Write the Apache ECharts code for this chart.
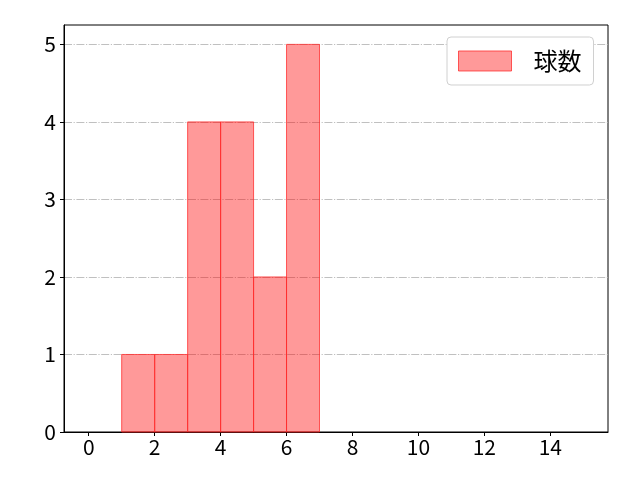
<!DOCTYPE html>
<html>
<head>
<meta charset="utf-8">
<script src="https://cdn.jsdelivr.net/npm/echarts@6/dist/echarts.min.js"></script>
<style>
  html, body { margin: 0; padding: 0; background: #fff; }
  #chart { width: 640px; height: 480px; }
</style>
</head>
<body>
<div id="chart"></div>
<script>
// ヒストグラムのビン（左端・右端）と度数
var binStarts = [1, 2, 3, 4, 5, 6];
var binEnds = [2, 3, 4, 5, 6, 7];
var counts = [1, 1, 4, 4, 2, 5];
var xTicks = [0, 2, 4, 6, 8, 10, 12, 14];
var yTicks = [0, 1, 2, 3, 4, 5];
var seriesName = '球数';

var font = '"Noto Sans CJK JP", "Noto Sans", sans-serif';

var chart = echarts.init(document.getElementById('chart'));

var data = [];
for (var i = 0; i < counts.length; i++) {
    data.push([binStarts[i], binEnds[i], counts[i]]);
}

function renderBar(params, api) {
    var p0 = api.coord([api.value(0), 0]);
    var p1 = api.coord([api.value(1), api.value(2)]);
    return {
        type: 'rect',
        shape: { x: p0[0], y: p1[1], width: p1[0] - p0[0], height: p0[1] - p1[1] },
        style: { fill: 'rgba(255,0,0,0.4)', stroke: 'rgba(255,40,40,0.75)', lineWidth: 1 }
    };
}

var option = {
    backgroundColor: '#fff',
    animation: false,
    grid: {
        left: 64, right: 32, top: 25, bottom: 48,
        show: true, borderColor: '#000', borderWidth: 1, backgroundColor: 'transparent'
    },
    legend: {
        left: 447, top: 37,
        padding: [12, 12, 12, 11],
        backgroundColor: '#fff',
        borderColor: '#d0d0d0', borderWidth: 1, borderRadius: 4,
        itemWidth: 53, itemHeight: 20,
        textStyle: { fontSize: 24, fontFamily: font, color: '#000', padding: [0, 0, 0, 17] },
        data: [{ name: seriesName, icon: 'rect',
                 itemStyle: { color: 'rgba(255,0,0,0.4)', borderColor: 'rgba(255,40,40,0.75)', borderWidth: 1 } }]
    },
    xAxis: {
        type: 'value', min: -0.75, max: 15.75,
        axisLine: { show: true, onZero: false, lineStyle: { color: '#000', width: 1 } },
        axisTick: { show: true, length: 4, customValues: xTicks, lineStyle: { color: '#000' } },
        axisLabel: { customValues: xTicks, fontSize: 21, fontFamily: font, color: '#000', margin: 5 },
        splitLine: { show: false }
    },
    yAxis: {
        type: 'value', min: 0, max: 5.25,
        axisLine: { show: true, onZero: false, lineStyle: { color: '#000', width: 1 } },
        axisTick: { show: true, length: 4, customValues: yTicks, lineStyle: { color: '#000' } },
        axisLabel: { customValues: yTicks, fontSize: 21, fontFamily: font, color: '#000', margin: 8 },
        splitLine: { show: true, lineStyle: { color: '#b0b0b0', width: 0.8, type: [8, 1.6, 1.2, 1.6] } }
    },
    series: [{
        name: seriesName,
        type: 'custom',
        renderItem: renderBar,
        encode: { x: [0, 1], y: 2 },
        data: data,
        z: 3
    }]
};
chart.setOption(option);
</script>
</body>
</html>
